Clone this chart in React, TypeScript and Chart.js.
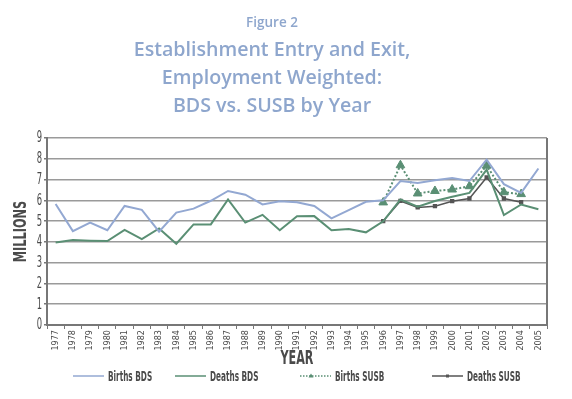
import React, { useEffect, useRef } from "react";
import { Chart, registerables } from "chart.js";
Chart.register(...registerables);

const years = ["1977","1978","1979","1980","1981","1982","1983","1984","1985","1986","1987","1988","1989","1990","1991","1992","1993","1994","1995","1996","1997","1998","1999","2000","2001","2002","2003","2004","2005"];
const birthsBDS = [5.82,4.52,4.93,4.56,5.73,5.54,4.49,5.41,5.6,5.98,6.45,6.27,5.8,5.95,5.91,5.73,5.13,5.53,5.93,6.0,6.93,6.84,6.97,7.07,6.93,7.96,6.78,6.36,7.53];
const deathsBDS = [3.97,4.09,4.06,4.04,4.58,4.13,4.65,3.91,4.84,4.84,6.04,4.93,5.3,4.56,5.23,5.24,4.56,4.62,4.46,4.99,6.04,5.69,5.97,6.17,6.36,7.48,5.29,5.8,5.57];
const birthsSUSB = [null,null,null,null,null,null,null,null,null,null,null,null,null,null,null,null,null,null,null,5.9,7.69,6.33,6.45,6.52,6.68,7.67,6.39,6.3,null];
const deathsSUSB = [null,null,null,null,null,null,null,null,null,null,null,null,null,null,null,null,null,null,null,5.0,5.97,5.66,5.72,5.96,6.09,7.1,6.09,5.91,null];
const yMin = 0;
const yMax = 9;
const figureLabel = "Figure 2";
const titleLines = ["Establishment Entry and Exit,", "Employment Weighted:", "BDS vs. SUSB by Year"];
const xTitle = "YEAR";
const yTitle = "MILLIONS";
const seriesNames = ["Births BDS", "Deaths BDS", "Births SUSB", "Deaths SUSB"];

const TITLE_COLOR = "#8ea6cd";
const BLUE = "#93a8d2";
const GREEN = "#5a8f74";
const DARK = "#555555";
const TEXT = "#4a4a4a";
const NARROW = "'Liberation Sans Narrow', 'DejaVu Sans Condensed', 'Noto Sans', sans-serif";

function drawText(ctx: CanvasRenderingContext2D, text: string, x: number, y: number, font: string, color: string, align: CanvasTextAlign, sx = 1, rot = 0) {
  ctx.save();
  ctx.font = font;
  ctx.fillStyle = color;
  ctx.textAlign = align;
  ctx.textBaseline = "middle";
  ctx.translate(x, y);
  if (rot) ctx.rotate(rot);
  ctx.scale(sx, 1);
  ctx.fillText(text, 0, 0);
  ctx.restore();
}

const decor = {
  id: "decor",
  afterDraw(chart: any) {
    const ctx: CanvasRenderingContext2D = chart.ctx;
    const a = chart.chartArea;
    const cx = 272;
    // right border
    ctx.save();
    ctx.strokeStyle = "#777";
    ctx.lineWidth = 2;
    ctx.beginPath();
    ctx.moveTo(a.right, a.top);
    ctx.lineTo(a.right, a.bottom);
    ctx.stroke();
    ctx.restore();
    // y tick labels (condensed), positioned by the y scale
    const ys = chart.scales.y;
    ys.ticks.forEach((t: any) => {
      drawText(ctx, String(t.value), a.left - 5, ys.getPixelForValue(t.value) + 0.5, "15px " + NARROW, TEXT, "right", 0.62);
    });
    // titles
    drawText(ctx, figureLabel, cx, 23, "600 13.5px 'Open Sans', sans-serif", TITLE_COLOR, "center");
    titleLines.forEach((t, i) => drawText(ctx, t, cx, 50 + i * 28, "600 20px 'Open Sans', sans-serif", TITLE_COLOR, "center", 0.98));
    // axis titles
    drawText(ctx, xTitle, (a.left + a.right) / 2, 359, "bold 20px " + NARROW, TEXT, "center", 0.62);
    drawText(ctx, yTitle, 21.5, (a.top + a.bottom) / 2, "bold 18px " + NARROW, TEXT, "center", 0.7, -Math.PI / 2);
    // legend
    const ly = 376;
    const items = [
      { x: 73, color: BLUE, dash: [] as number[], w: 1.5, marker: "" },
      { x: 175, color: GREEN, dash: [] as number[], w: 1.5, marker: "" },
      { x: 300, color: GREEN, dash: [1.5, 1.5], w: 1.5, marker: "tri" },
      { x: 432, color: DARK, dash: [] as number[], w: 1.5, marker: "dot" },
    ];
    items.forEach((it, i) => {
      ctx.save();
      ctx.strokeStyle = it.color;
      ctx.lineWidth = it.w;
      ctx.setLineDash(it.dash);
      ctx.beginPath();
      ctx.moveTo(it.x, ly);
      ctx.lineTo(it.x + 31, ly);
      ctx.stroke();
      ctx.setLineDash([]);
      ctx.fillStyle = it.color;
      if (it.marker === "tri") {
        ctx.beginPath();
        ctx.moveTo(it.x + 11, ly - 2.5);
        ctx.lineTo(it.x + 13.5, ly + 1.5);
        ctx.lineTo(it.x + 8.5, ly + 1.5);
        ctx.closePath();
        ctx.fill();
      } else if (it.marker === "dot") {
        ctx.fillRect(it.x + 14, ly - 1.5, 3, 3);
      }
      ctx.restore();
      drawText(ctx, seriesNames[i], it.x + 35, ly + 1, "bold 14px " + NARROW, TEXT, "left", 0.58);
    });
  },
};

export default function App() {
  const ref = useRef<HTMLCanvasElement>(null);
  useEffect(() => {
    const canvas = ref.current!;
    const chart = new Chart(canvas, {
      type: "line",
      data: {
        labels: years,
        datasets: [
          { label: seriesNames[0], data: birthsBDS, borderColor: BLUE, backgroundColor: BLUE, borderWidth: 2, pointRadius: 0, tension: 0 },
          { label: seriesNames[1], data: deathsBDS, borderColor: GREEN, backgroundColor: GREEN, borderWidth: 2, pointRadius: 0, tension: 0 },
          { label: seriesNames[2], data: birthsSUSB, borderColor: GREEN, backgroundColor: GREEN, borderWidth: 2, borderDash: [2, 2], pointStyle: "triangle", pointRadius: 5, pointBorderWidth: 1, tension: 0 },
          { label: seriesNames[3], data: deathsSUSB, borderColor: DARK, backgroundColor: DARK, borderWidth: 1.5, pointStyle: "rect", pointRadius: 2, tension: 0 },
        ],
      },
      options: {
        responsive: false,
        devicePixelRatio: 1,
        animation: false,
        events: [],
        layout: { padding: { top: 138, left: 10, right: 25, bottom: 0 } },
        plugins: { legend: { display: false }, tooltip: { enabled: false }, title: { display: false } },
        scales: {
          x: {
            type: "category",
            offset: true,
            afterFit: (s: any) => { s.height = 74; },
            grid: { display: true, drawOnChartArea: false, drawTicks: true, tickLength: 4, offset: true, color: "#777", lineWidth: 1 },
            border: { display: true, color: "#777", width: 2 },
            ticks: { autoSkip: false, minRotation: 90, maxRotation: 90, padding: 1, color: TEXT, font: { family: NARROW, size: 9 } },
          },
          y: {
            min: yMin,
            max: yMax,
            afterFit: (s: any) => { s.width = 37; },
            grid: { color: "#9a9a9a", lineWidth: 1.5, drawTicks: true, tickLength: 3, tickColor: "#777" },
            border: { display: true, color: "#777", width: 2 },
            ticks: { stepSize: 1, autoSkip: false, display: false },
          },
        },
      },
      plugins: [decor],
    });
    return () => chart.destroy();
  }, []);
  return (
    <div style={{ position: "absolute", left: 0, top: 0, width: 572, height: 399, background: "#fff" }}>
      <canvas ref={ref} width={572} height={399} />
    </div>
  );
}
